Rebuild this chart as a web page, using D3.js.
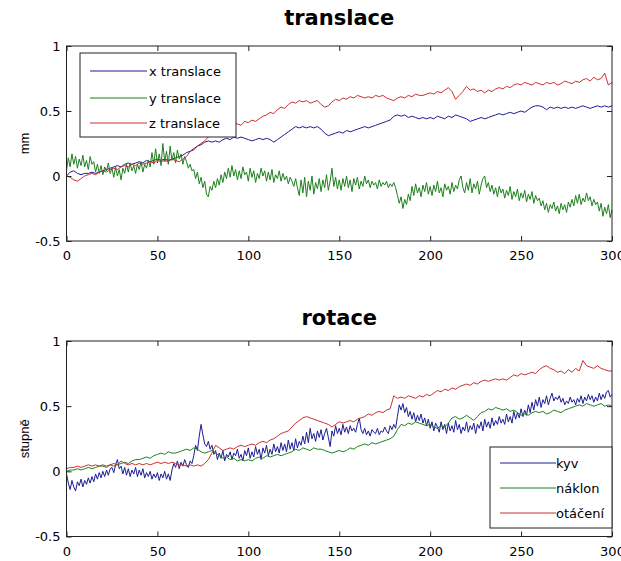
<!DOCTYPE html>
<html>
<head>
<meta charset="utf-8">
<script src="https://cdn.jsdelivr.net/npm/d3@7"></script>
<style>
  html, body { margin: 0; padding: 0; background: #ffffff; }
  svg { display: block; }
  .tick text { font-family: "DejaVu Sans", sans-serif; font-size: 13px; fill: #000; }
</style>
</head>
<body>
<svg id="chart" width="621" height="561"></svg>
<script>
// Frame numbers: every frame, and every second frame
const framesAll = d3.range(0, 301);
const framesEven = d3.range(0, 301, 2);

// Translation (mm)
// x and z: every second frame
const xTranslace = [
  0.00, 0.03, 0.04, 0.02, 0.01, 0.02, 0.02, 0.03, 0.02, 0.03,
  0.04, 0.05, 0.06, 0.07, 0.08, 0.07, 0.09, 0.10, 0.09, 0.10,
  0.11, 0.10, 0.12, 0.11, 0.12, 0.13, 0.12, 0.13, 0.12, 0.13,
  0.14, 0.15, 0.16, 0.18, 0.19, 0.21, 0.23, 0.24, 0.26, 0.27,
  0.26, 0.27, 0.26, 0.28, 0.29, 0.28, 0.30, 0.29, 0.30, 0.29,
  0.28, 0.27, 0.28, 0.29, 0.28, 0.29, 0.28, 0.26, 0.28, 0.30,
  0.32, 0.34, 0.36, 0.38, 0.37, 0.38, 0.37, 0.38, 0.37, 0.38,
  0.36, 0.33, 0.31, 0.32, 0.33, 0.34, 0.33, 0.35, 0.34, 0.35,
  0.36, 0.37, 0.38, 0.37, 0.38, 0.39, 0.40, 0.41, 0.42, 0.43,
  0.46, 0.47, 0.46, 0.47, 0.45, 0.46, 0.45, 0.44, 0.45, 0.44,
  0.45, 0.44, 0.46, 0.45, 0.44, 0.46, 0.45, 0.47, 0.46, 0.45,
  0.44, 0.42, 0.43, 0.44, 0.45, 0.44, 0.45, 0.46, 0.47, 0.48,
  0.47, 0.48, 0.49, 0.48, 0.49, 0.50, 0.49, 0.51, 0.53, 0.54,
  0.54, 0.53, 0.51, 0.53, 0.52, 0.53, 0.52, 0.53, 0.52, 0.53,
  0.52, 0.53, 0.54, 0.53, 0.52, 0.53, 0.54, 0.53, 0.54, 0.53,
  0.54
];
// y: every frame
const yTranslace = [
  0.04, 0.14, 0.07, 0.17, 0.09, 0.15, 0.06, 0.13, 0.08, 0.16,
  0.07, 0.12, 0.05, 0.15, 0.09, 0.11, 0.03, 0.09, 0.02, 0.08,
  0.01, 0.07, 0.04, 0.10, 0.02, 0.06, -0.01, 0.07, 0.00, 0.05,
  -0.03, 0.06, 0.02, 0.09, 0.03, 0.10, 0.04, 0.08, 0.02, 0.09,
  0.05, 0.11, 0.03, 0.09, 0.06, 0.12, 0.07, 0.18, 0.09, 0.21,
  0.10, 0.17, 0.08, 0.25, 0.11, 0.19, 0.09, 0.23, 0.12, 0.18,
  0.10, 0.20, 0.13, 0.17, 0.09, 0.15, 0.11, 0.06, 0.09, 0.04,
  0.05, -0.02, 0.03, -0.06, -0.01, -0.09, -0.04, -0.14, -0.16, -0.08,
  -0.11, -0.04, -0.09, -0.02, -0.07, 0.01, -0.05, 0.03, -0.02, 0.06,
  -0.01, 0.08, 0.00, 0.05, -0.03, 0.04, -0.02, 0.07, 0.01, 0.03,
  -0.04, 0.06, -0.01, 0.04, -0.05, 0.02, -0.02, 0.06, 0.00, 0.04,
  -0.04, 0.03, -0.03, 0.05, -0.05, 0.01, -0.02, 0.04, -0.04, 0.02,
  -0.03, 0.00, -0.06, -0.01, -0.04, -0.08, -0.02, -0.09, -0.15, -0.03,
  -0.13, -0.01, -0.16, -0.04, -0.11, 0.00, -0.14, -0.05, -0.10, -0.02,
  -0.12, -0.03, -0.09, 0.01, -0.11, -0.04, 0.06, -0.08, -0.01, -0.10,
  -0.03, -0.11, -0.02, -0.08, 0.00, -0.09, -0.03, -0.12, -0.02, -0.07,
  -0.01, -0.10, -0.04, -0.08, 0.00, -0.06, -0.03, -0.09, -0.04, -0.07,
  -0.05, -0.10, -0.03, -0.08, -0.05, -0.07, -0.04, -0.09, -0.06, -0.08,
  -0.05, -0.09, -0.15, -0.21, -0.16, -0.25, -0.18, -0.22, -0.14, -0.19,
  -0.08, -0.15, -0.06, -0.13, -0.09, -0.16, -0.07, -0.12, -0.05, -0.14,
  -0.08, -0.15, -0.07, -0.12, -0.04, -0.13, -0.09, -0.16, -0.06, -0.11,
  -0.08, -0.14, -0.05, -0.12, -0.07, -0.10, -0.03, 0.00, -0.09, -0.13,
  -0.05, -0.11, -0.02, -0.13, -0.06, -0.10, -0.04, -0.14, -0.07, -0.02,
  0.00, -0.09, -0.05, -0.12, -0.07, -0.14, -0.09, -0.16, -0.08, -0.13,
  -0.10, -0.17, -0.11, -0.15, -0.08, -0.18, -0.12, -0.16, -0.10, -0.19,
  -0.13, -0.17, -0.11, -0.20, -0.14, -0.18, -0.12, -0.21, -0.15, -0.19,
  -0.17, -0.23, -0.19, -0.26, -0.21, -0.28, -0.22, -0.25, -0.20, -0.27,
  -0.23, -0.29, -0.21, -0.26, -0.22, -0.28, -0.20, -0.24, -0.18, -0.23,
  -0.15, -0.21, -0.14, -0.22, -0.17, -0.20, -0.13, -0.19, -0.16, -0.23,
  -0.18, -0.22, -0.20, -0.27, -0.21, -0.31, -0.24, -0.29, -0.22, -0.32,
  -0.26
];
const zTranslace = [
  0.00, -0.01, -0.03, -0.04, -0.02, 0.00, 0.01, 0.02, 0.01, 0.03,
  0.04, 0.03, 0.05, 0.06, 0.05, 0.07, 0.08, 0.07, 0.09, 0.08,
  0.10, 0.09, 0.10, 0.11, 0.10, 0.12, 0.11, 0.12, 0.11, 0.13,
  0.12, 0.11, 0.13, 0.15, 0.19, 0.20, 0.23, 0.25, 0.27, 0.30,
  0.33, 0.32, 0.35, 0.37, 0.36, 0.39, 0.41, 0.40, 0.39, 0.42,
  0.41, 0.43, 0.42, 0.44, 0.46, 0.47, 0.49, 0.48, 0.51, 0.53,
  0.52, 0.55, 0.57, 0.56, 0.58, 0.57, 0.58, 0.56, 0.57, 0.58,
  0.55, 0.53, 0.54, 0.57, 0.59, 0.58, 0.60, 0.59, 0.61, 0.60,
  0.62, 0.61, 0.60, 0.61, 0.60, 0.62, 0.61, 0.62, 0.60, 0.59,
  0.58, 0.60, 0.61, 0.60, 0.62, 0.61, 0.63, 0.62, 0.62, 0.63,
  0.64, 0.63, 0.65, 0.64, 0.66, 0.68, 0.65, 0.59, 0.62, 0.65,
  0.69, 0.66, 0.67, 0.65, 0.66, 0.64, 0.66, 0.65, 0.67, 0.68,
  0.67, 0.69, 0.68, 0.70, 0.71, 0.70, 0.72, 0.71, 0.70, 0.72,
  0.71, 0.70, 0.72, 0.71, 0.72, 0.70, 0.71, 0.73, 0.72, 0.71,
  0.73, 0.72, 0.74, 0.75, 0.73, 0.76, 0.74, 0.75, 0.79, 0.70,
  0.72
];

// Rotation (degrees)
// kyv: every frame
const kyv = [
  -0.02, -0.09, -0.14, -0.07, -0.12, -0.15, -0.08, -0.11, -0.06, -0.12,
  -0.07, -0.10, -0.05, -0.09, -0.04, -0.08, -0.02, -0.06, -0.01, -0.05,
  0.00, -0.04, 0.01, -0.03, 0.02, 0.03, -0.01, 0.05, 0.09, 0.02,
  0.04, -0.02, 0.03, -0.03, 0.02, -0.04, 0.01, -0.02, 0.03, -0.04,
  0.01, -0.03, 0.02, -0.05, -0.01, -0.04, 0.00, -0.06, -0.02, -0.05,
  -0.01, -0.07, -0.02, -0.05, 0.00, -0.06, -0.02, -0.07, 0.01, 0.06,
  0.03, 0.08, 0.02, 0.07, 0.04, 0.09, 0.05, 0.03, 0.08, 0.06,
  0.12, 0.20, 0.16, 0.27, 0.36, 0.28, 0.21, 0.19, 0.23, 0.17,
  0.20, 0.13, 0.16, 0.09, 0.14, 0.10, 0.16, 0.08, 0.13, 0.11,
  0.15, 0.09, 0.14, 0.12, 0.17, 0.10, 0.13, 0.08, 0.16, 0.12,
  0.18, 0.10, 0.15, 0.11, 0.19, 0.13, 0.17, 0.09, 0.18, 0.14,
  0.20, 0.12, 0.17, 0.13, 0.21, 0.15, 0.19, 0.14, 0.22, 0.16,
  0.21, 0.15, 0.24, 0.17, 0.22, 0.16, 0.25, 0.18, 0.23, 0.20,
  0.27, 0.21, 0.30, 0.22, 0.33, 0.25, 0.29, 0.23, 0.31, 0.26,
  0.32, 0.24, 0.29, 0.33, 0.26, 0.19, 0.31, 0.27, 0.35, 0.29,
  0.33, 0.28, 0.36, 0.30, 0.34, 0.29, 0.35, 0.31, 0.33, 0.30,
  0.36, 0.41, 0.32, 0.29, 0.33, 0.28, 0.31, 0.27, 0.32, 0.30,
  0.29, 0.33, 0.28, 0.31, 0.30, 0.34, 0.31, 0.29, 0.35, 0.32,
  0.36, 0.33, 0.42, 0.51, 0.47, 0.52, 0.45, 0.49, 0.42, 0.46,
  0.40, 0.45, 0.38, 0.43, 0.39, 0.44, 0.37, 0.41, 0.35, 0.40,
  0.33, 0.38, 0.31, 0.37, 0.34, 0.30, 0.38, 0.32, 0.36, 0.29,
  0.37, 0.31, 0.35, 0.30, 0.39, 0.32, 0.36, 0.29, 0.34, 0.31,
  0.38, 0.30, 0.35, 0.32, 0.37, 0.29, 0.36, 0.33, 0.38, 0.31,
  0.40, 0.34, 0.38, 0.33, 0.41, 0.35, 0.39, 0.36, 0.42, 0.37,
  0.40, 0.36, 0.44, 0.38, 0.42, 0.37, 0.46, 0.40, 0.45, 0.41,
  0.48, 0.42, 0.47, 0.43, 0.51, 0.45, 0.53, 0.47, 0.55, 0.50,
  0.57, 0.49, 0.55, 0.52, 0.58, 0.51, 0.56, 0.60, 0.54, 0.57,
  0.55, 0.58, 0.53, 0.56, 0.51, 0.54, 0.52, 0.57, 0.53, 0.55,
  0.51, 0.56, 0.53, 0.58, 0.52, 0.57, 0.54, 0.59, 0.55, 0.58,
  0.53, 0.57, 0.54, 0.60, 0.55, 0.59, 0.56, 0.61, 0.62, 0.57,
  0.59
];
// náklon and otáčení: every second frame
const naklon = [
  0.00, 0.01, 0.01, 0.02, 0.01, 0.02, 0.03, 0.02, 0.03, 0.04,
  0.04, 0.03, 0.05, 0.04, 0.05, 0.06, 0.07, 0.06, 0.08, 0.09,
  0.09, 0.10, 0.11, 0.10, 0.12, 0.13, 0.14, 0.13, 0.15, 0.14,
  0.14, 0.15, 0.16, 0.17, 0.16, 0.18, 0.17, 0.15, 0.14, 0.15,
  0.16, 0.14, 0.12, 0.10, 0.11, 0.09, 0.10, 0.08, 0.09, 0.08,
  0.09, 0.08, 0.10, 0.11, 0.10, 0.12, 0.11, 0.12, 0.13, 0.12,
  0.13, 0.14, 0.15, 0.17, 0.16, 0.18, 0.17, 0.16, 0.18, 0.17,
  0.17, 0.16, 0.15, 0.14, 0.15, 0.16, 0.15, 0.16, 0.18, 0.17,
  0.19, 0.20, 0.21, 0.20, 0.22, 0.21, 0.22, 0.23, 0.24, 0.25,
  0.27, 0.32, 0.36, 0.35, 0.37, 0.36, 0.38, 0.37, 0.36, 0.35,
  0.36, 0.34, 0.33, 0.35, 0.34, 0.37, 0.41, 0.42, 0.40, 0.41,
  0.43, 0.41, 0.39, 0.42, 0.45, 0.46, 0.48, 0.47, 0.49, 0.48,
  0.47, 0.48, 0.46, 0.47, 0.45, 0.43, 0.44, 0.43, 0.45, 0.46,
  0.45, 0.46, 0.44, 0.45, 0.47, 0.46, 0.45, 0.47, 0.48, 0.49,
  0.50, 0.51, 0.50, 0.52, 0.51, 0.50, 0.51, 0.52, 0.50, 0.51,
  0.50
];
const otaceni = [
  0.02, 0.03, 0.03, 0.04, 0.03, 0.04, 0.05, 0.04, 0.05, 0.04,
  0.05, 0.04, 0.05, 0.06, 0.05, 0.08, 0.06, 0.05, 0.06, 0.05,
  0.06, 0.05, 0.06, 0.05, 0.06, 0.07, 0.06, 0.07, 0.06, 0.07,
  0.06, 0.05, 0.05, 0.04, 0.05, 0.04, 0.05, 0.04, 0.06, 0.09,
  0.14, 0.20, 0.18, 0.16, 0.17, 0.18, 0.17, 0.19, 0.20, 0.19,
  0.20, 0.21, 0.20, 0.22, 0.23, 0.22, 0.24, 0.25, 0.27, 0.29,
  0.30, 0.31, 0.34, 0.37, 0.39, 0.41, 0.42, 0.41, 0.40, 0.39,
  0.38, 0.37, 0.36, 0.34, 0.36, 0.38, 0.37, 0.38, 0.39, 0.38,
  0.40, 0.41, 0.42, 0.44, 0.43, 0.45, 0.46, 0.45, 0.47, 0.48,
  0.58, 0.56, 0.57, 0.56, 0.58, 0.57, 0.56, 0.58, 0.57, 0.59,
  0.58, 0.60, 0.62, 0.61, 0.63, 0.62, 0.64, 0.63, 0.65, 0.66,
  0.67, 0.66, 0.68, 0.67, 0.69, 0.70, 0.69, 0.70, 0.71, 0.70,
  0.71, 0.70, 0.72, 0.74, 0.73, 0.75, 0.74, 0.75, 0.76, 0.75,
  0.78, 0.80, 0.81, 0.79, 0.78, 0.76, 0.77, 0.75, 0.78, 0.76,
  0.79, 0.77, 0.85, 0.81, 0.80, 0.79, 0.81, 0.79, 0.78, 0.77,
  0.77
];

const xTicks = [0, 50, 100, 150, 200, 250, 300];
const yTicks = [-0.5, 0, 0.5, 1];

const BLUE = "#1c1c96", GREEN = "#1d801d", RED = "#cc3030";

const svg = d3.select("#chart");

const panels = [
  {
    title: "translace", ylabel: "mm", top: 46, bottom: 241, titleY: 25,
    series: [
      { name: "x translace", values: xTranslace, frames: framesEven, color: BLUE },
      { name: "y translace", values: yTranslace, frames: framesAll, color: GREEN },
      { name: "z translace", values: zTranslace, frames: framesEven, color: RED }
    ],
    legend: { x: 80, y: 53, w: 156, h: 84, lineX0: 90, lineX1: 147, textX: 149, rows: [71, 98, 123] }
  },
  {
    title: "rotace", ylabel: "stupně", top: 341, bottom: 536.5, titleY: 325,
    series: [
      { name: "kyv", values: kyv, frames: framesAll, color: BLUE },
      { name: "náklon", values: naklon, frames: framesEven, color: GREEN },
      { name: "otáčení", values: otaceni, frames: framesEven, color: RED }
    ],
    legend: { x: 490, y: 447, w: 122, h: 81, lineX0: 500, lineX1: 556, textX: 556, rows: [463, 488, 513] }
  }
];

const left = 66.5, right = 612;
const x = d3.scaleLinear().domain([0, 300]).range([left, right]);

panels.forEach(p => {
  const y = d3.scaleLinear().domain([-0.5, 1]).range([p.bottom, p.top]);
  const g = svg.append("g");

  // data lines
  p.series.forEach(s => {
    const line = d3.line().x((d, i) => x(s.frames[i])).y(d => y(d));
    g.append("path")
      .datum(s.values)
      .attr("d", line)
      .attr("fill", "none")
      .attr("stroke", s.color)
      .attr("stroke-width", 1)
      .attr("stroke-linejoin", "round");
  });

  // axes with inward ticks on all four sides
  const fmt = d => String(d);
  g.append("g").attr("transform", `translate(0,${p.bottom})`)
    .call(d3.axisBottom(x).tickValues(xTicks).tickFormat(fmt).tickSizeInner(-5).tickSizeOuter(0).tickPadding(10));
  g.append("g").attr("transform", `translate(0,${p.top})`)
    .call(d3.axisTop(x).tickValues(xTicks).tickFormat("").tickSizeInner(-5).tickSizeOuter(0));
  g.append("g").attr("transform", `translate(${left},0)`)
    .call(d3.axisLeft(y).tickValues(yTicks).tickFormat(fmt).tickSizeInner(-5).tickSizeOuter(0).tickPadding(6));
  g.append("g").attr("transform", `translate(${right},0)`)
    .call(d3.axisRight(y).tickValues(yTicks).tickFormat("").tickSizeInner(-5).tickSizeOuter(0));
  g.selectAll(".domain").remove();
  g.selectAll(".tick line").attr("stroke", "#222");

  // frame
  g.append("rect")
    .attr("x", left).attr("y", p.top)
    .attr("width", right - left).attr("height", p.bottom - p.top)
    .attr("fill", "none").attr("stroke", "#222").attr("stroke-width", 1);

  // title
  svg.append("text")
    .attr("x", (left + right) / 2).attr("y", p.titleY)
    .attr("text-anchor", "middle")
    .attr("font-family", "DejaVu Sans, sans-serif")
    .attr("font-weight", "bold").attr("font-size", 21)
    .text(p.title);

  // y label
  svg.append("text")
    .attr("transform", `translate(29,${(p.top + p.bottom) / 2}) rotate(-90)`)
    .attr("text-anchor", "middle")
    .attr("font-family", "Liberation Sans, Arial, sans-serif")
    .attr("font-size", 13)
    .text(p.ylabel);

  // legend
  const L = p.legend;
  const lg = svg.append("g");
  lg.append("rect")
    .attr("x", L.x).attr("y", L.y).attr("width", L.w).attr("height", L.h)
    .attr("fill", "#fff").attr("stroke", "#222").attr("stroke-width", 1);
  p.series.forEach((s, i) => {
    lg.append("line")
      .attr("x1", L.lineX0).attr("x2", L.lineX1)
      .attr("y1", L.rows[i]).attr("y2", L.rows[i])
      .attr("stroke", s.color).attr("stroke-width", 1);
    lg.append("text")
      .attr("x", L.textX).attr("y", L.rows[i]).attr("dy", "0.35em")
      .attr("font-family", "DejaVu Sans, sans-serif")
      .attr("font-size", 13)
      .text(s.name);
  });
});
</script>
</body>
</html>
